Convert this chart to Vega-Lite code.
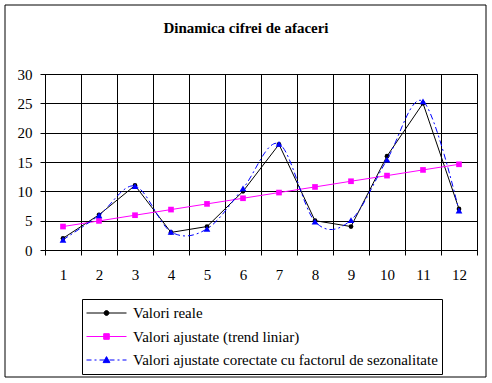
{
  "$schema": "https://vega.github.io/schema/vega-lite/v6.json",
  "width": 432,
  "height": 176,
  "autosize": {"type": "none"},
  "padding": {"left": 45, "top": 74, "right": 15, "bottom": 133},
  "background": "white",
  "config": {"view": {"stroke": "black", "strokeWidth": 1}},
  "title": {"text": "Dinamica cifrei de afaceri", "font": "Liberation Serif", "fontSize": 15, "fontWeight": "bold", "color": "black", "anchor": "middle", "dx": -15, "offset": -43, "baseline": "alphabetic"},
  "data": {"values": [
    {"x": 1, "series": "Valori reale", "value": 2},
    {"x": 2, "series": "Valori reale", "value": 6},
    {"x": 3, "series": "Valori reale", "value": 11},
    {"x": 4, "series": "Valori reale", "value": 3},
    {"x": 5, "series": "Valori reale", "value": 4},
    {"x": 6, "series": "Valori reale", "value": 10},
    {"x": 7, "series": "Valori reale", "value": 18},
    {"x": 8, "series": "Valori reale", "value": 5},
    {"x": 9, "series": "Valori reale", "value": 4},
    {"x": 10, "series": "Valori reale", "value": 16},
    {"x": 11, "series": "Valori reale", "value": 25},
    {"x": 12, "series": "Valori reale", "value": 7},
    {"x": 1, "series": "Valori ajustate (trend liniar)", "value": 4.0},
    {"x": 2, "series": "Valori ajustate (trend liniar)", "value": 4.96},
    {"x": 3, "series": "Valori ajustate (trend liniar)", "value": 5.93},
    {"x": 4, "series": "Valori ajustate (trend liniar)", "value": 6.89},
    {"x": 5, "series": "Valori ajustate (trend liniar)", "value": 7.86},
    {"x": 6, "series": "Valori ajustate (trend liniar)", "value": 8.82},
    {"x": 7, "series": "Valori ajustate (trend liniar)", "value": 9.79},
    {"x": 8, "series": "Valori ajustate (trend liniar)", "value": 10.75},
    {"x": 9, "series": "Valori ajustate (trend liniar)", "value": 11.72},
    {"x": 10, "series": "Valori ajustate (trend liniar)", "value": 12.68},
    {"x": 11, "series": "Valori ajustate (trend liniar)", "value": 13.65},
    {"x": 12, "series": "Valori ajustate (trend liniar)", "value": 14.61},
    {"x": 1, "series": "Valori ajustate corectate cu factorul de sezonalitate", "value": 1.75},
    {"x": 2, "series": "Valori ajustate corectate cu factorul de sezonalitate", "value": 5.9},
    {"x": 3, "series": "Valori ajustate corectate cu factorul de sezonalitate", "value": 10.9},
    {"x": 4, "series": "Valori ajustate corectate cu factorul de sezonalitate", "value": 3.1},
    {"x": 5, "series": "Valori ajustate corectate cu factorul de sezonalitate", "value": 3.6},
    {"x": 6, "series": "Valori ajustate corectate cu factorul de sezonalitate", "value": 10.5},
    {"x": 7, "series": "Valori ajustate corectate cu factorul de sezonalitate", "value": 18.1},
    {"x": 8, "series": "Valori ajustate corectate cu factorul de sezonalitate", "value": 4.85},
    {"x": 9, "series": "Valori ajustate corectate cu factorul de sezonalitate", "value": 5.1},
    {"x": 10, "series": "Valori ajustate corectate cu factorul de sezonalitate", "value": 15.4},
    {"x": 11, "series": "Valori ajustate corectate cu factorul de sezonalitate", "value": 25.35},
    {"x": 12, "series": "Valori ajustate corectate cu factorul de sezonalitate", "value": 6.7}
  ]},
  "encoding": {
    "x": {"field": "x", "type": "ordinal", "scale": {"type": "band", "paddingInner": 0, "paddingOuter": 0},
      "axis": {"title": null, "labelAngle": 0, "tickBand": "extent", "grid": true, "gridColor": "black", "gridOpacity": 1, "domainColor": "black", "tickColor": "black", "tickSize": 5, "labelFont": "Liberation Serif", "labelFontSize": 15, "labelColor": "black", "labelPadding": 12}},
    "y": {"field": "value", "type": "quantitative", "scale": {"domain": [0, 30]},
      "axis": {"title": null, "values": [0, 5, 10, 15, 20, 25, 30], "grid": true, "gridColor": "black", "gridOpacity": 1, "domainColor": "black", "tickColor": "black", "tickSize": 5, "labelFont": "Liberation Serif", "labelFontSize": 15, "labelColor": "black", "labelPadding": 8}}
  },
  "layer": [
    {"transform": [{"filter": "datum.series === 'Valori reale'"}], "mark": {"type": "line", "color": "black", "strokeWidth": 1}},
    {"transform": [{"filter": "datum.series === 'Valori reale'"}], "mark": {"type": "point", "shape": "circle", "filled": true, "color": "black", "size": 22, "opacity": 1}},
    {"transform": [{"filter": "datum.series === 'Valori ajustate (trend liniar)'"}], "mark": {"type": "line", "color": "#FF00FF", "strokeWidth": 1}},
    {"transform": [{"filter": "datum.series === 'Valori ajustate (trend liniar)'"}], "mark": {"type": "point", "shape": "square", "filled": true, "color": "#FF00FF", "size": 32, "opacity": 1}},
    {"transform": [{"filter": "datum.series === 'Valori ajustate corectate cu factorul de sezonalitate'"}], "mark": {"type": "line", "color": "#0000FF", "strokeWidth": 1, "interpolate": "cardinal", "strokeDash": [6, 3, 2, 3]}},
    {"transform": [{"filter": "datum.series === 'Valori ajustate corectate cu factorul de sezonalitate'"}], "mark": {"type": "point", "shape": "triangle-up", "filled": true, "color": "#0000FF", "size": 45, "opacity": 1}},
    {
      "mark": {"type": "point", "filled": true, "opacity": 0},
      "encoding": {
        "fill": {"field": "series", "type": "nominal",
          "scale": {"domain": ["Valori reale", "Valori ajustate (trend liniar)", "Valori ajustate corectate cu factorul de sezonalitate"], "range": ["black", "#FF00FF", "#0000FF"]},
          "legend": {"title": null, "orient": "none", "legendX": 37, "legendY": 225, "padding": 4, "strokeColor": "black", "symbolSize": 1600, "symbolStrokeWidth": 1, "symbolOpacity": 1, "clipHeight": 20, "rowPadding": 3.5, "labelOffset": 6, "labelFont": "Liberation Serif", "labelFontSize": 15, "labelColor": "black", "labelLimit": 400}},
        "stroke": {"field": "series", "type": "nominal",
          "scale": {"domain": ["Valori reale", "Valori ajustate (trend liniar)", "Valori ajustate corectate cu factorul de sezonalitate"], "range": ["black", "#FF00FF", "#0000FF"]},
          "legend": {"title": null, "orient": "none", "legendX": 37, "legendY": 225, "padding": 4, "strokeColor": "black", "symbolSize": 1600, "symbolStrokeWidth": 1, "symbolOpacity": 1, "clipHeight": 20, "rowPadding": 3.5, "labelOffset": 6, "labelFont": "Liberation Serif", "labelFontSize": 15, "labelColor": "black", "labelLimit": 400}},
        "shape": {"field": "series", "type": "nominal",
          "scale": {"domain": ["Valori reale", "Valori ajustate (trend liniar)", "Valori ajustate corectate cu factorul de sezonalitate"],
            "range": [
              "M-1,0H1M-0.12,0A0.12,0.12 0 1,1 0.12,0A0.12,0.12 0 1,1 -0.12,0Z",
              "M-1,0H1M-0.14,-0.14H0.14V0.14H-0.14Z",
              "M-1,0H-0.75M-0.6,0H-0.5M-0.35,0H-0.1M0.15,0H0.4M0.55,0H0.65M0.8,0H1M0,-0.17L0.17,0.13H-0.17Z"
            ]},
          "legend": {"title": null, "orient": "none", "legendX": 37, "legendY": 225, "padding": 4, "strokeColor": "black", "symbolSize": 1600, "symbolStrokeWidth": 1, "symbolOpacity": 1, "clipHeight": 20, "rowPadding": 3.5, "labelOffset": 6, "labelFont": "Liberation Serif", "labelFontSize": 15, "labelColor": "black", "labelLimit": 400}}
      }
    },
    {
      "transform": [{"filter": "datum.x === 1 && datum.series === 'Valori reale'"}],
      "mark": {"type": "point", "filled": true, "opacity": 0},
      "encoding": {
        "color": {"field": "value", "type": "quantitative", "scale": {"range": ["rgba(0,0,0,0)", "rgba(0,0,0,0)"]},
          "legend": {"title": null, "orient": "none", "direction": "horizontal", "legendX": -40, "legendY": -69, "padding": 0, "gradientLength": 481, "gradientThickness": 372, "gradientStrokeColor": "black", "gradientStrokeWidth": 1, "labelExpr": "''", "labelOpacity": 0}}
      }
    }
  ]
}
